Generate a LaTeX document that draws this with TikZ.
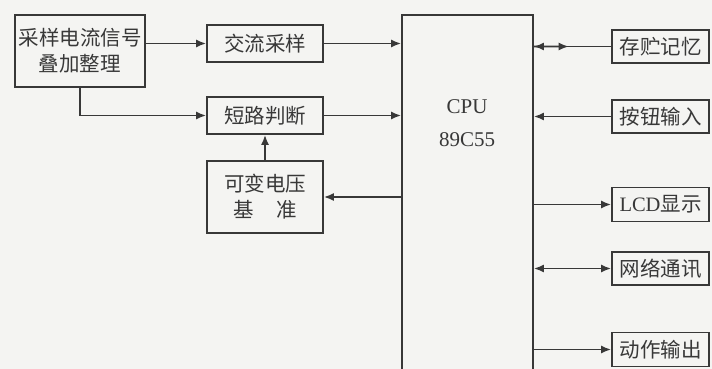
\documentclass[tikz,border=0pt]{standalone}
\usepackage{fontspec}
\setmainfont{Liberation Serif}
\newfontfamily\cjk{Noto Sans CJK SC}
\usetikzlibrary{arrows.meta,calc}
\definecolor{ink}{HTML}{383838}
\definecolor{paper}{HTML}{F4F4F2}
\begin{document}
\begin{tikzpicture}[x=1pt,y=-1pt,
  box/.style={draw=ink,line width=1.8pt,fill=paper,inner sep=0pt,text=ink,font=\cjk\fontsize{20.5}{26}\selectfont,align=center},
  conn/.style={draw=ink,line width=1.6pt},
  tip/.tip={Latex[length=10pt,width=8pt]},
  arr/.style={conn,-tip},
  txt/.style={text=ink,inner sep=0pt,font=\fontsize{21}{24}\selectfont}]
\fill[paper] (0,0) rectangle (712,369);
\useasboundingbox (0,0) rectangle (712,369);
% left boxes
\node[box,minimum width=130pt,minimum height=72pt] (b1) at (80,51) {采样电流信号\\叠加整理};
\node[box,minimum width=116pt,minimum height=37pt] (jl) at (265,43.5) {交流采样};
\node[box,minimum width=116pt,minimum height=37pt] (dl) at (265,115.5) {短路判断};
\node[box,minimum width=116pt,minimum height=72pt] (kb) at (265,197) {可变电压\\基\hspace{1.1em}准};
% CPU
\node[box,minimum width=131pt,minimum height=380pt] (cpu) at (467.5,205) {};
\node[txt] (cpu1) at (467,107) {CPU};
\node[txt] (cpu2) at (467,140) {89C55};
% right boxes
\node[box,minimum width=97pt,minimum height=33pt] (cc) at (660.5,46.5) {存贮记忆};
\node[box,minimum width=97pt,minimum height=33pt] (aj) at (660.5,116.5) {按钮输入};
\node[box,minimum width=97pt,minimum height=34pt] (lcd) at (660.5,204.5) {\fontspec{Liberation Serif}LCD\cjk 显示};
\node[box,minimum width=97pt,minimum height=33pt] (wl) at (660.5,268.5) {网络通讯};
\node[box,minimum width=97pt,minimum height=34pt] (dz) at (660.5,349.5) {动作输出};
% left connectors
\draw[arr] (b1.east |- jl.west) -- (jl.west);
\draw[arr] (b1.south) |- (dl.west);
\draw[arr] (jl.east) -- (jl.east -| cpu.west);
\draw[arr] (dl.east) -- (dl.east -| cpu.west);
\draw[arr] (kb.north) -- (dl.south);
\draw[arr] (cpu.west |- kb.east) -- (kb.east);
% right connectors
\coordinate (ccm) at ($(cc.west -| cpu.east)!0.45!(cc.west)$);
\draw[arr] (cc.west) -- (cc.west -| cpu.east);
\draw[arr] (cc.west -| cpu.east) -- (ccm);
\draw[arr] (aj.west) -- (aj.west -| cpu.east);
\draw[arr] (lcd.west -| cpu.east) -- (lcd.west);
\draw[conn,tip-tip] (wl.west -| cpu.east) -- (wl.west);
\draw[arr] (dz.west -| cpu.east) -- (dz.west);
\end{tikzpicture}
\end{document}
